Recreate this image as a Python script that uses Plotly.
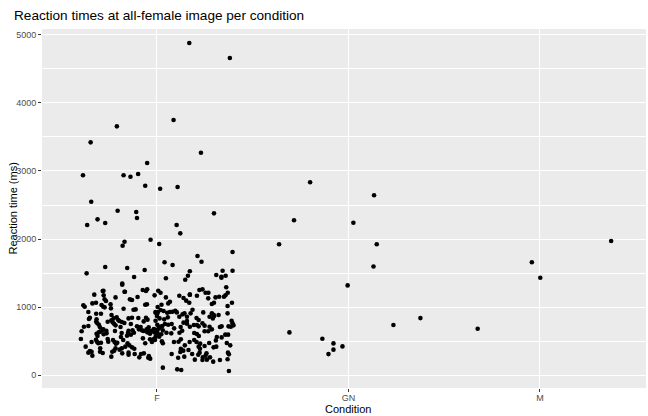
import plotly.graph_objects as go

categories = ["F", "GN", "M"]

# F condition: horizontal jitter (fraction of category spacing) and reaction time (ms)
f_jitter = [
    0.169, 0.381, 0.087, -0.209, -0.346, 0.230, -0.051, -0.386, -0.174, -0.138,
    -0.098, -0.061, 0.017, 0.108, -0.343, -0.205, -0.108, -0.104, 0.298, -0.310,
    -0.364, -0.270, -0.169, -0.179, -0.033, 0.012, -0.270, -0.367, -0.155, -0.064,
    -0.119, -0.181, -0.181, -0.279, -0.169, -0.074, -0.051,
    0.103, 0.122, 0.395, 0.212, 0.233, 0.040, 0.082, 0.172, 0.162, 0.148, 0.047,
    0.310, 0.343, 0.337, 0.337, 0.359, 0.395, 0.362, 0.007, 0.019, 0.222, 0.238,
    0.269, 0.172, 0.370,
    -0.327, -0.278, -0.283, -0.216, -0.167, -0.101, -0.057, -0.012, -0.141, -0.130,
    -0.273, -0.266, -0.384, -0.377, -0.337, -0.318, -0.289, -0.280, -0.273, -0.242,
    -0.240, -0.174, -0.122, -0.111, -0.052, -0.061, 0.005, -0.007, 0.002, -0.358,
    -0.317, -0.292, -0.237, -0.350, -0.355, -0.315, -0.317, -0.311, -0.257, -0.238,
    -0.226, -0.210, -0.202, -0.196, -0.183, -0.170, -0.148, -0.130, -0.097, -0.057,
    -0.049, -0.069, -0.136, -0.231, -0.224, -0.216, -0.190, -0.381, -0.358, -0.303,
    -0.297, -0.282, -0.304, -0.294, -0.315, -0.310, -0.264, -0.263, -0.278, -0.280,
    -0.393, -0.219, -0.184, -0.148, -0.151, -0.156, -0.136, -0.104, -0.085, -0.094,
    -0.078, -0.069, -0.054, -0.043, -0.040, -0.050, -0.028, -0.016, -0.005, 0.002,
    0.011, -0.014, -0.036, 0.004, 0.012, -0.007, -0.120, -0.127, -0.188, -0.397,
    -0.341, -0.318, -0.313, -0.306, -0.292, -0.257, -0.254, -0.221, -0.214, -0.207,
    -0.229, -0.176, -0.144, -0.130, -0.073, -0.036, -0.026, -0.016, -0.061, -0.153,
    -0.372, -0.296, -0.216, -0.183, -0.165, -0.118, -0.358, -0.350, -0.341, -0.297,
    -0.283, -0.337, -0.233, -0.223, -0.195, -0.238, -0.181, -0.148, -0.148, -0.116,
    -0.083, -0.068, -0.042, -0.035, -0.045, -0.092,
    0.047, 0.068, 0.059, 0.024, 0.004, 0.117, 0.139, 0.153, 0.169, 0.172,
    0.209, 0.254, 0.268, 0.306, 0.298, 0.287, 0.325, 0.350, 0.358, 0.369,
    0.392, 0.019, 0.035, 0.054, 0.068, 0.082, 0.096, 0.104, -0.007, 0.117,
    0.134, 0.144, 0.176, 0.186, 0.157, 0.207, 0.218, 0.242, 0.287, 0.296,
    0.299, 0.292, 0.275, 0.322, 0.369, 0.390, 0.395, 0.400, 0.386, 0.374,
    0.338, 0.329, 0.000, -0.007, 0.014, 0.038, 0.057, 0.002, 0.010, 0.019,
    0.028, 0.042, 0.059, 0.077, 0.031, -0.005, 0.007, 0.023, 0.050, 0.075,
    0.090, 0.124, 0.139, 0.157, 0.157, 0.172, 0.193, 0.209, 0.218, 0.238,
    0.249, 0.275, 0.287, 0.249, 0.132, 0.118, 0.195, 0.209, 0.219, 0.268,
    -0.010, 0.031, 0.026, 0.089, 0.113, 0.125, 0.146, 0.171, 0.195, 0.207,
    0.226, 0.218, 0.225, 0.273, 0.308, 0.313, 0.338, 0.357, 0.372, 0.310,
    0.296, 0.249, 0.165, 0.125, 0.122, 0.138, 0.365, 0.371, 0.376, 0.383,
    0.077, 0.111, 0.143, 0.184, 0.223, 0.216, 0.240, 0.254, 0.259, 0.261,
    0.277, 0.294, 0.198, 0.238, 0.329, 0.369, 0.031, 0.106, 0.127, 0.376,
]
f_rt = [
    4878, 4658, 3748, 3655, 3420, 3268, 3117, 2936, 2936, 2916,
    2955, 2783, 2739, 2764, 2549, 2416, 2397, 2309, 2378, 2290,
    2206, 2236, 1961, 1903, 1991, 1927, 1590, 1497, 1575, 1546,
    1443, 1348, 1330, 1242, 1227, 1252, 1262,
    2206, 2084, 1810, 1751, 1668, 1659, 1619, 1527, 1462, 1403, 1424,
    1472, 1536, 1447, 1433, 1462, 1536, 1292, 1242, 1213, 1252, 1262,
    1213, 1184, 1213,
    1184, 1174, 1237, 1144, 1228, 1149, 1237, 1174, 1115, 1105,
    1115, 1091, 1027, 1007, 1056, 1066, 1032, 1007, 998, 1042,
    983, 978, 963, 968, 1042, 1037, 929, 919, 905, 929,
    905, 905, 885, 846, 827, 822, 787, 763, 787, 807,
    836, 851, 812, 797, 783, 768, 836, 846, 841, 846,
    817, 792, 753, 778, 758, 734, 709, 714, 724, 743,
    704, 670, 631, 641, 611, 577, 655, 616, 602, 675,
    646, 650, 621, 655, 621, 582, 597, 719, 709, 675,
    660, 650, 675, 704, 646, 631, 655, 680, 670, 655,
    690, 631, 611, 602, 567, 567, 626, 660, 562, 533,
    489, 523, 494, 470, 479, 533, 494, 489, 465, 479,
    518, 518, 440, 411, 543, 528, 489, 533, 470, 470,
    421, 396, 396, 396, 421, 391, 333, 357, 347, 347,
    328, 289, 347, 362, 377, 274, 323, 333, 303, 313,
    313, 323, 284, 245, 259, 264,
    1144, 1081, 1056, 1037, 1003, 1169, 1135, 1096, 1066, 1184,
    1169, 1213, 1130, 1144, 1066, 1047, 1154, 1154, 1174, 1017,
    1066, 959, 944, 919, 929, 934, 949, 924, 929, 861,
    895, 910, 910, 963, 861, 841, 812, 924, 910, 890,
    871, 836, 861, 885, 910, 802, 763, 734, 714, 719,
    719, 709, 871, 802, 836, 822, 851, 743, 714, 714,
    724, 753, 743, 753, 660, 626, 602, 602, 626, 616,
    690, 709, 773, 797, 758, 714, 739, 739, 719, 763,
    729, 714, 675, 646, 655, 626, 621, 606, 577, 646,
    518, 470, 499, 489, 494, 528, 440, 489, 518, 489,
    465, 421, 391, 474, 513, 562, 557, 597, 597, 421,
    411, 430, 372, 391, 343, 362, 474, 333, 308, 440,
    313, 259, 274, 313, 333, 303, 264, 289, 323, 230,
    264, 201, 230, 225, 225, 235, 113, 88, 78, 64,
]

gn_jitter = [-0.200, 0.134, -0.284, 0.026, -0.362, 0.148, 0.131, -0.004,
             0.235, 0.376, -0.308, -0.136, -0.078, -0.031, -0.078, -0.104]
gn_rt = [2834, 2644, 2277, 2239, 1925, 1925, 1598, 1320,
         738, 840, 630, 538, 469, 425, 377, 312]

m_jitter = [-0.325, -0.042, 0.002, 0.372]
m_rt = [684, 1659, 1433, 1972]

y_ticks = [0, 1000, 2000, 3000, 4000, 5000]

xs, ys = [], []
for idx, (jit, rt) in enumerate([(f_jitter, f_rt), (gn_jitter, gn_rt), (m_jitter, m_rt)]):
    xs += [idx + 1 + j for j in jit]
    ys += rt

fig = go.Figure(go.Scatter(
    x=xs, y=ys, mode="markers",
    marker=dict(color="black", size=4.6, line=dict(width=0)),
    hoverinfo="skip", showlegend=False,
))

font_family = "Liberation Sans, Arial, sans-serif"
fig.update_layout(
    width=648, height=416,
    margin=dict(l=42, r=2, t=29, b=28),
    paper_bgcolor="white",
    plot_bgcolor="#EBEBEB",
    font=dict(family=font_family, color="black"),
    title=dict(text="Reaction times at all-female image per condition",
               x=14 / 648, xanchor="left", y=1 - 15 / 416, yanchor="middle",
               font=dict(size=13.6, color="black")),
    xaxis=dict(
        range=[0.4, 3.554], tickmode="array", tickvals=[1, 2, 3], ticktext=categories,
        showgrid=True, gridcolor="white", gridwidth=1.1, zeroline=False,
        ticks="outside", ticklen=3, tickcolor="#333333", tickwidth=1,
        ticklabelstandoff=-2,
        tickfont=dict(size=9, color="#4D4D4D"), showline=False,
    ),
    yaxis=dict(
        range=[-186, 5084], tickmode="array", tickvals=y_ticks,
        showgrid=True, gridcolor="white", gridwidth=1.1, zeroline=False,
        minor=dict(dtick=500, tick0=0, showgrid=True, gridcolor="white", gridwidth=0.6),
        ticks="outside", ticklen=3, tickcolor="#333333", tickwidth=1,
        tickfont=dict(size=9, color="#4D4D4D"), showline=False,
    ),
    annotations=[
        dict(text="Condition", x=2, xref="x",
             y=0, yref="paper", yshift=-21, showarrow=False,
             font=dict(size=11, color="black"), yanchor="middle"),
        dict(text="Reaction time (ms)", textangle=-90, x=0, xref="paper", xshift=-30,
             y=0.5, yref="paper", showarrow=False, xanchor="center", yanchor="middle",
             font=dict(size=11, color="black")),
    ],
)

fig.write_html("out.html")
